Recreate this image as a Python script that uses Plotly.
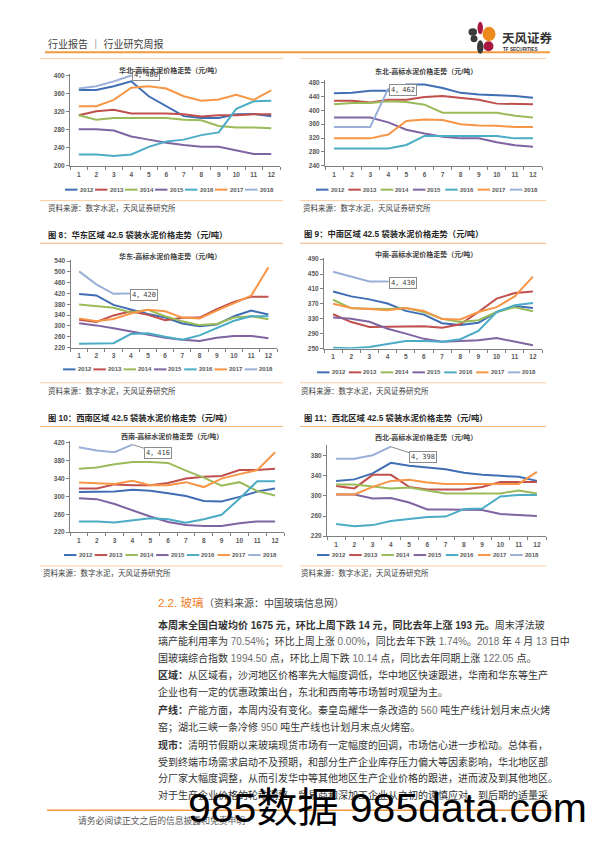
import plotly.graph_objects as go

W, H = 596, 842
FONT = "Liberation Sans, Noto Sans CJK SC"

# ---------------- data ----------------
months = list(range(1, 13))
month_labels = [str(m) for m in months]
years = ["2012", "2013", "2014", "2015", "2016", "2017", "2018"]
colors = ["#3F6EB5", "#C0504D", "#9BBB59", "#8064A2", "#4BACC6", "#F79646", "#9AB0D8"]

# rows: 2012 ... 2018 (2018 has Jan-Apr only)
huabei = [
    [368, 368, 376, 387, 354, 332, 310, 306, 306, 314, 315, 310],
    [312, 321, 324, 316, 316, 316, 314, 309, 312, 312, 314, 314],
    [312, 302, 306, 306, 306, 306, 302, 301, 288, 285, 285, 283],
    [281, 281, 278, 265, 258, 251, 246, 242, 242, 234, 226, 226],
    [225, 225, 222, 225, 242, 254, 258, 268, 274, 326, 343, 344],
    [332, 332, 346, 373, 376, 371, 354, 344, 347, 357, 346, 367],
    [371, 376, 387, 400],
]
dongbei = [
    [449, 450, 456, 456, 474, 474, 464, 450, 445, 444, 441, 436],
    [427, 427, 422, 430, 430, 438, 441, 436, 430, 419, 419, 417],
    [417, 421, 421, 426, 424, 416, 393, 393, 393, 393, 384, 379],
    [379, 379, 379, 365, 344, 333, 324, 319, 319, 308, 299, 295],
    [290, 290, 290, 290, 300, 326, 326, 326, 326, 326, 319, 319],
    [319, 319, 319, 330, 369, 373, 372, 360, 356, 355, 352, 352],
    [352, 352, 352, 462],
]
huadong = [
    [418, 413, 378, 360, 344, 331, 309, 299, 305, 336, 357, 342],
    [323, 315, 339, 354, 341, 321, 330, 331, 362, 389, 408, 408],
    [379, 372, 367, 350, 360, 336, 317, 303, 307, 331, 336, 325],
    [310, 302, 291, 279, 267, 256, 249, 244, 256, 263, 263, 254],
    [234, 234, 236, 270, 273, 260, 249, 265, 292, 319, 336, 336],
    [328, 317, 326, 346, 360, 354, 331, 328, 357, 386, 412, 517],
    [502, 454, 419, 420],
]
zhongnan = [
    [403, 390, 382, 371, 351, 341, 318, 313, 319, 348, 364, 359],
    [342, 321, 308, 308, 310, 310, 306, 315, 348, 384, 399, 403],
    [381, 358, 357, 356, 359, 348, 330, 321, 326, 348, 361, 350],
    [333, 330, 322, 303, 290, 276, 268, 270, 272, 278, 268, 259],
    [252, 251, 254, 262, 270, 270, 268, 275, 297, 348, 366, 372],
    [370, 359, 356, 353, 359, 351, 329, 328, 348, 361, 390, 443],
    [456, 443, 430, 430],
]
xinan = [
    [310, 310, 311, 315, 313, 307, 301, 290, 289, 299, 311, 318],
    [318, 318, 327, 325, 325, 330, 340, 344, 346, 359, 359, 362],
    [362, 365, 372, 377, 377, 375, 358, 342, 324, 332, 312, 302],
    [296, 294, 283, 269, 255, 243, 236, 234, 234, 240, 244, 244],
    [244, 244, 242, 246, 251, 249, 241, 249, 259, 295, 334, 334],
    [331, 330, 328, 335, 325, 325, 332, 321, 340, 350, 359, 399],
    [410, 403, 399, 416],
]
xibei = [
    [330, 333, 345, 366, 360, 356, 353, 346, 342, 340, 338, 330],
    [320, 315, 342, 342, 318, 313, 313, 313, 318, 328, 328, 328],
    [323, 323, 319, 315, 317, 311, 305, 305, 305, 305, 311, 305],
    [303, 303, 295, 296, 287, 273, 273, 272, 272, 264, 262, 260],
    [244, 240, 242, 250, 254, 258, 259, 274, 275, 299, 302, 302],
    [303, 303, 318, 330, 332, 327, 324, 324, 324, 324, 324, 348],
    [374, 374, 381, 398],
]

chart_titles = ["华北-高标水泥价格走势（元/吨）", "东北-高标水泥价格走势（元/吨）",
                "华东-高标水泥价格走势（元/吨）", "中南-高标水泥价格走势（元/吨）",
                "西南-高标水泥价格走势（元/吨）", "西北-高标水泥价格走势（元/吨）"]
fig_headings = ["图 8：华东区域 42.5 袋装水泥价格走势（元/吨）", "图 9：中南区域 42.5 袋装水泥价格走势（元/吨）",
                "图 10：西南区域 42.5 袋装水泥价格走势（元/吨）", "图 11：西北区域 42.5 袋装水泥价格走势（元/吨）"]
source_text = "资料来源：数字水泥，天风证券研究所"

yticks_huabei = [200, 240, 280, 320, 360, 400]
yticks_dongbei = [240, 280, 320, 360, 400, 440, 480]
yticks_huadong = [220, 260, 300, 340, 380, 420, 460, 500, 540]
yticks_zhongnan = [250, 290, 330, 370, 410, 450, 490]
yticks_xinan = [220, 260, 300, 340, 380, 420]
yticks_xibei = [220, 260, 300, 340, 380]

# ---------------- helpers ----------------
def X(p):
    return p / W

def Y(p):
    return 1 - p / H

annotations = []
shapes = []

def txt(x, y, s, size, color="#333333", bold=False, anchor="left", family=FONT):
    annotations.append(dict(x=X(x), y=Y(y), xref="paper", yref="paper", text=s,
                            showarrow=False, xanchor=anchor, yanchor="middle", borderpad=0,
                            font=dict(size=size, color=color, family=family,
                                      weight="bold" if bold else "normal")))

def hline(x0, x1, y, color, width=1):
    shapes.append(dict(type="line", xref="paper", yref="paper", x0=X(x0), x1=X(x1),
                       y0=Y(y), y1=Y(y), line=dict(color=color, width=width)))

def ellipse(x0, y0, x1, y1, color):
    shapes.append(dict(type="circle", xref="paper", yref="paper", x0=X(x0), x1=X(x1),
                       y0=Y(y1), y1=Y(y0), fillcolor=color, line=dict(width=0)))

# chart layout specs (pixel geometry only)
charts = [
    dict(data=huabei, ticks=yticks_huabei, x0=70, x1=280, vb=200, pb=164, vt=400, pt=73, top=404,
         tx=118, ty=68, lx=65, ldx=30, ly=188, ax=15, ay=0),
    dict(data=dongbei, ticks=yticks_dongbei, x0=325, x1=542, vb=240, pb=164, vt=480, pt=80, top=486,
         tx=374, ty=69, lx=316, ldx=32.3, ly=188, ax=15, ay=1),
    dict(data=huadong, ticks=yticks_huadong, x0=70.5, x1=277, vb=220, pb=347, vt=540, pt=260, top=544,
         tx=118, ty=255, lx=63, ldx=30.3, ly=369, ax=13, ay=1),
    dict(data=zhongnan, ticks=yticks_zhongnan, x0=324, x1=542, vb=250, pb=348, vt=490, pt=258, top=494,
         tx=374, ty=253, lx=317, ldx=31.8, ly=372, ax=15, ay=1.5),
    dict(data=xinan, ticks=yticks_xinan, x0=70, x1=284, vb=220, pb=533, vt=420, pt=443, top=424,
         tx=120, ty=437, lx=64, ldx=30.7, ly=556, ax=26, ay=8),
    dict(data=xibei, ticks=yticks_xibei, x0=327, x1=546, vb=220, pb=537, vt=380, pt=456, top=401,
         tx=374, ty=438, lx=317, ldx=32.2, ly=556, ax=32, ay=10.5),
]

fig = go.Figure()
layout = dict(width=W, height=H, margin=dict(l=0, r=0, t=0, b=0),
              paper_bgcolor="white", plot_bgcolor="rgba(0,0,0,0)", showlegend=False,
              font=dict(family=FONT))

AXC = "#7F7F7F"
TICKC = "#595959"

for i, c in enumerate(charts):
    n = i + 1
    xs = "x" if n == 1 else f"x{n}"
    ys = "y" if n == 1 else f"y{n}"
    scale = (c["pb"] - c["pt"]) / (c["vt"] - c["vb"])
    ptop = c["pb"] - (c["top"] - c["vb"]) * scale
    layout["xaxis" if n == 1 else f"xaxis{n}"] = dict(
        domain=[X(c["x0"]), X(c["x1"])], range=[0.5, 12.5], anchor=ys,
        tickvals=months, ticktext=month_labels, showline=True, linecolor=AXC, linewidth=1,
        showgrid=False, zeroline=False, ticks="", fixedrange=True,
        tickfont=dict(size=6.5, color=TICKC, family=FONT, weight="bold"),
        ticklabelstandoff=2,
        minor=dict(tick0=0.5, dtick=1, ticks="outside", ticklen=3, tickcolor=AXC, showgrid=False))
    layout["yaxis" if n == 1 else f"yaxis{n}"] = dict(
        domain=[Y(c["pb"]), Y(ptop)], range=[c["vb"], c["top"]], anchor=xs,
        tickvals=c["ticks"], showline=True, linecolor=AXC, linewidth=1,
        showgrid=False, zeroline=False, ticks="outside", ticklen=3, tickcolor=AXC, fixedrange=True,
        tickfont=dict(size=6.5, color=TICKC, family=FONT, weight="bold"))
    for j, series in enumerate(c["data"]):
        fig.add_trace(go.Scatter(x=months[:len(series)], y=series, mode="lines",
                                 line=dict(color=colors[j], width=2), name=years[j],
                                 xaxis=xs, yaxis=ys, hoverinfo="skip"))
    # data label on 2018 April
    last = c["data"][6]
    annotations.append(dict(x=len(last), y=last[-1], xref=xs, yref=ys,
                            text=f"{len(last)}，{last[-1]}", showarrow=True, arrowhead=0,
                            arrowwidth=1, arrowcolor="#8C8C8C", ax=c["ax"], ay=c["ay"],
                            bgcolor="white", bordercolor="#8C8C8C", borderwidth=1, borderpad=1,
                            font=dict(size=7, color="#404040", family="DejaVu Sans Mono, Noto Sans CJK SC")))
    # chart title
    txt(c["tx"], c["ty"], chart_titles[i], 7, color="#404040", bold=True)
    # legend (manual, Excel style)
    for j, yr in enumerate(years):
        lx0 = c["lx"] + j * c["ldx"]
        hline(lx0, lx0 + 12.5, c["ly"], colors[j], 2)
        txt(lx0 + 13.5, c["ly"], yr, 6, color=TICKC, bold=True)

# ---------------- page decorations ----------------
ORANGE = "#F19A3E"
LIGHT = "#F9CFA5"
# header
txt(47, 41, "行业报告 ｜ 行业研究周报", 10, color="#404040")
hline(45, 550, 49.5, ORANGE, 2)
# logo
ellipse(468.5, 25.5, 477, 33, "#3A3A3A")
ellipse(477.5, 19, 483, 31.5, "#A8173F")
ellipse(482.5, 24, 495.5, 38.5, "#EE8A1B")
ellipse(470.5, 32.5, 477.5, 39.5, "#3A3A3A")
ellipse(477, 37.5, 483.5, 51, "#3A3A3A")
ellipse(483.5, 38.5, 493.5, 48.5, "#A8173F")
txt(501, 35.5, "天风证券", 12.5, color="#333333", bold=True)
txt(502, 46.5, "TF SECURITIES", 4.6, color="#333333", bold=True)

# separator lines around charts
for (a, b) in [(40, 283), (300, 546)]:
    hline(a, b, 56, LIGHT, 1)
    hline(a, b, 199, LIGHT, 1)
    hline(a, b, 242, "#F5B27A", 1)
    hline(a, b, 382.5, LIGHT, 1)
    hline(a, b, 426.5, "#F5B27A", 1)
    hline(a, b, 567, LIGHT, 1)

# sources
txt(47, 206, source_text, 7.5, color="#404040")
txt(302, 206, source_text, 7.5, color="#404040")
txt(47, 391, source_text, 7.5, color="#404040")
txt(300, 391, source_text, 7.5, color="#404040")
txt(42, 574, source_text, 7.5, color="#404040")
txt(300, 574, source_text, 7.5, color="#404040")

# figure headings
txt(47, 234, fig_headings[0], 8.3, color="#262626", bold=True)
txt(303, 233, fig_headings[1], 8.3, color="#262626", bold=True)
txt(47, 418, fig_headings[2], 8.3, color="#262626", bold=True)
txt(303, 418, fig_headings[3], 8.3, color="#262626", bold=True)

# section text
txt(157, 604, "2.2. 玻璃", 11.5, color="#EE7D1F")
txt(203, 604, "（资料来源：中国玻璃信息网）", 10, color="#404040")

def g(s):
    return f"<span style='color:#6E6E6E'>{s}</span>"

body_lines = [
    (626, "<b>本周末全国白玻均价 1675 元，环比上周下跌 14 元，同比去年上涨 193 元。</b>周末浮法玻"),
    (643, f"璃产能利用率为 {g('70.54%')}；环比上周上涨 {g('0.00%')}，同比去年下跌 {g('1.74%')}。{g('2018')} 年 {g('4')} 月 {g('13')} 日中"),
    (660, f"国玻璃综合指数 {g('1994.50')} 点，环比上周下跌 {g('10.14')} 点，同比去年同期上涨 {g('122.05')} 点。"),
    (677, "<b>区域：</b>从区域看，沙河地区价格率先大幅度调低，华中地区快速跟进，华南和华东等生产"),
    (694, "企业也有一定的优惠政策出台，东北和西南等市场暂时观望为主。"),
    (712, f"<b>产线：</b>产能方面，本周内没有变化。秦皇岛耀华一条改造的 {g('560')} 吨生产线计划月末点火烤"),
    (729, f"窑；湖北三峡一条冷修 {g('950')} 吨生产线也计划月末点火烤窑。"),
    (747, "<b>现市：</b>清明节假期以来玻璃现货市场有一定幅度的回调，市场信心进一步松动。总体看，"),
    (764, "受到终端市场需求启动不及预期，和部分生产企业库存压力偏大等因素影响，华北地区部"),
    (781, "分厂家大幅度调整，从而引发华中等其他地区生产企业价格的跟进，进而波及到其他地区。"),
    (798, "对于生产企业价格的轮动调整，贸易商和深加工企业从之初的谨慎应对，到后期的适量采"),
]
for yy, s in body_lines:
    txt(157, yy, s, 10, color="#333333")

# footer
hline(47, 553, 813, ORANGE, 1.5)
txt(77, 823, "请务必阅读正文之后的信息披露和免责申明", 8.8, color="#595959")
# watermark
txt(187, 811, "985数据 985data.com", 41, color="#000000")

layout["annotations"] = annotations
layout["shapes"] = shapes
fig.update_layout(**layout)
fig.write_html("out.html", config={"displayModeBar": False, "staticPlot": True})

# remove the default page margin so the 596x842 figure fills the window exactly
with open("out.html", "r", encoding="utf-8") as f:
    html = f.read()
html = html.replace("<head>", "<head><style>html,body{margin:0;padding:0;overflow:hidden;}</style>", 1)
with open("out.html", "w", encoding="utf-8") as f:
    f.write(html)
